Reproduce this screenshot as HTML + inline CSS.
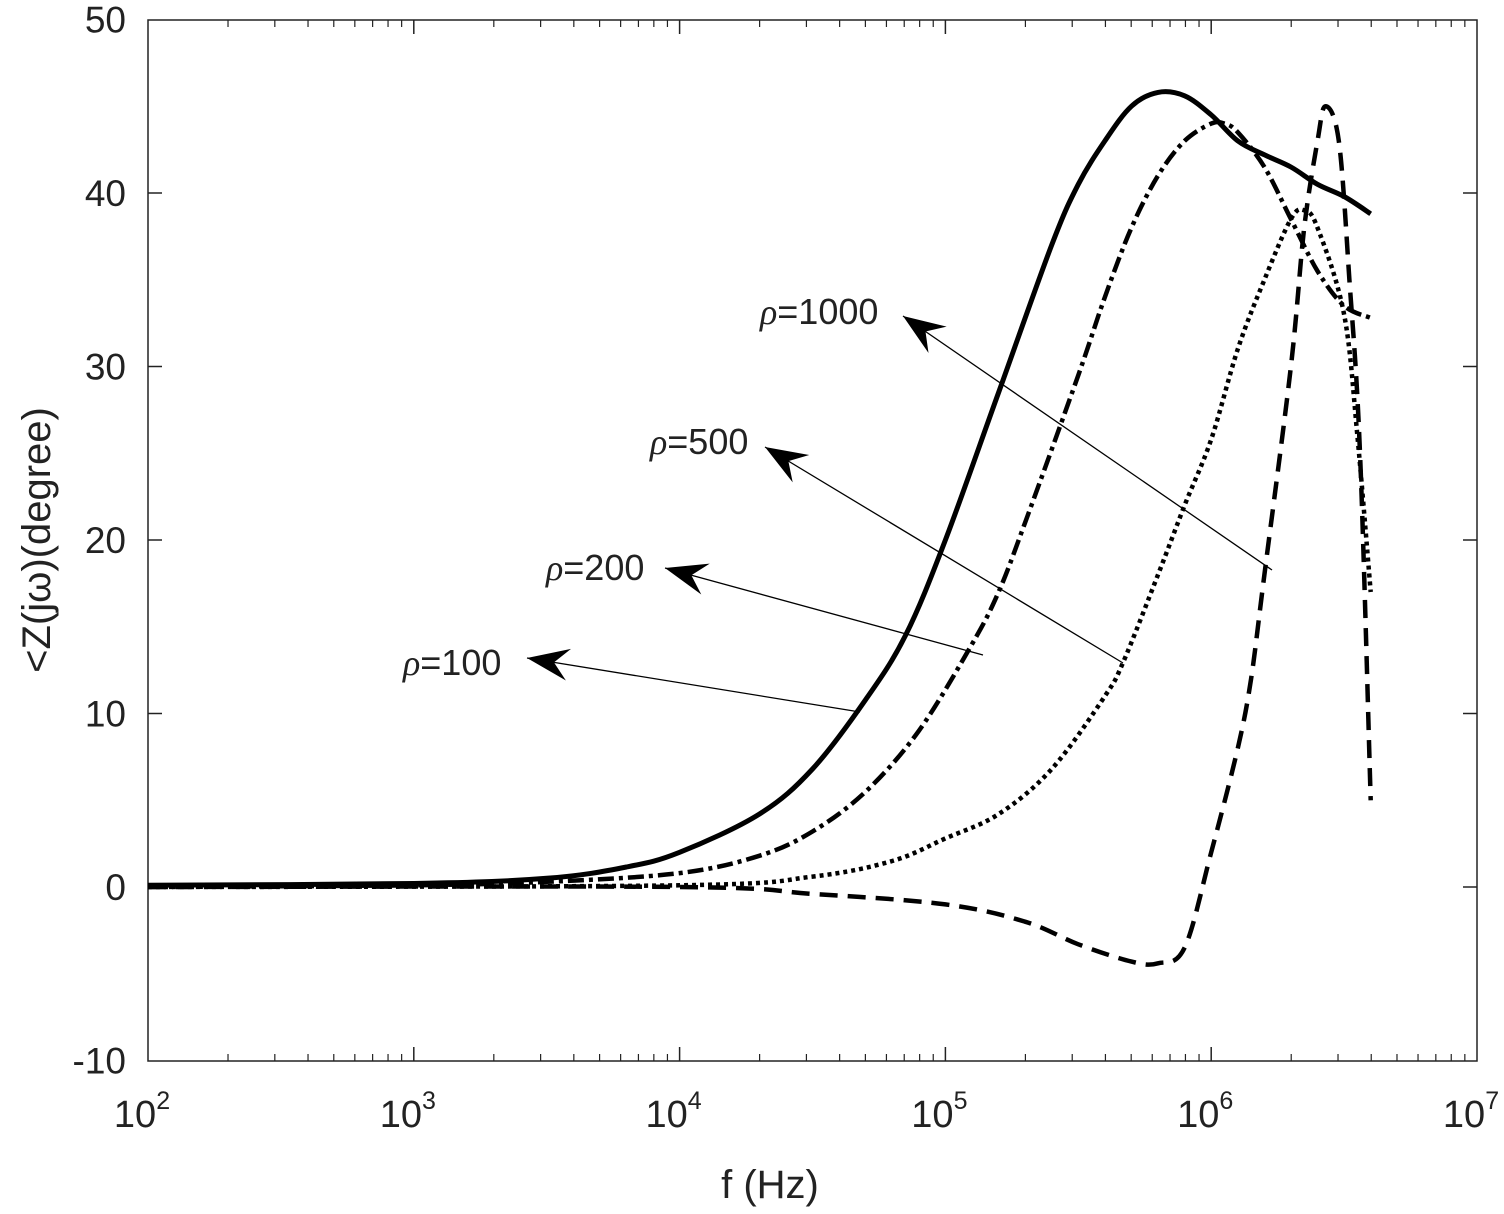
<!DOCTYPE html>
<html><head><meta charset="utf-8"><style>
body{margin:0;background:#fff}
svg text{font-family:"Liberation Sans",sans-serif;fill:#222}
</style></head><body>
<svg id="c" width="1504" height="1209">
<rect x="148" y="20" width="1329" height="1041" fill="none" stroke="#222" stroke-width="1.5"/>
<g id="ticks"></g><g id="series"></g><g id="ann"></g>
<text x="770" y="1198" font-size="40" text-anchor="middle">f (Hz)</text>
<text transform="translate(50,540) rotate(-90)" font-size="40" text-anchor="middle">&lt;Z(jω)(degree)</text>
</svg>
<script>
const xExp=[2,3,4,5,6,7];
const yTicks=[-10,0,10,20,30,40,50];
const logF100=[2,3,3.5,3.8,4,4.3,4.5,4.7,4.85,5,5.2,5.4,5.5,5.6,5.7,5.8,5.9,6,6.1,6.2,6.3,6.4,6.5,6.6];
const rho100=[0.1,0.2,0.5,1.15,2.0,4.2,6.8,10.8,14.5,20,28.5,37,40.5,43,45,45.8,45.6,44.5,43,42.2,41.5,40.5,39.8,38.8];
const logF200=[2,3,3.5,4,4.3,4.5,4.7,4.9,5.1,5.2,5.3,5.5,5.6,5.7,5.8,5.9,6,6.05,6.1,6.2,6.3,6.4,6.5,6.6];
const rho200=[0,0.1,0.3,0.8,1.8,3.2,5.5,9,14,17,21,29.5,34,38,41,43,44,44,43.5,41.5,38.5,35.5,33.5,32.8];
const logF500=[2,4,4.5,4.8,5,5.2,5.4,5.6,5.67,5.8,5.9,6,6.1,6.2,6.3,6.35,6.4,6.5,6.55,6.6];
const rho500=[0,0.1,0.6,1.5,2.8,4.2,6.8,11,13,18,22,25.8,31,35,38.5,39,38,33,26,17];
const logF1000=[2,4,4.5,5,5.3,5.5,5.7,5.8,5.9,6,6.1,6.15,6.2,6.3,6.35,6.4,6.43,6.48,6.52,6.56,6.6];
const rho1000=[0,0,-0.4,-1,-2,-3.3,-4.3,-4.4,-3.5,2,8,12,18,30,38,43,45,43,35,25,5];
const X=l=>148+(l-2)*265.8, Y=v=>887-v*17.35;
const NS="http://www.w3.org/2000/svg";
function mk(t,a,p){const e=document.createElementNS(NS,t);for(const k in a)e.setAttribute(k,a[k]);p.appendChild(e);return e;}
const tk=document.getElementById('ticks');
xExp.forEach(e=>{
 const x=X(e);
 if(e>2&&e<7){mk('line',{x1:x,y1:1061,x2:x,y2:1047,stroke:'#222','stroke-width':1.5},tk);mk('line',{x1:x,y1:20,x2:x,y2:34,stroke:'#222','stroke-width':1.5},tk);}
 if(e<7)for(let m=2;m<10;m++){const xm=X(e+Math.log10(m));mk('line',{x1:xm,y1:1061,x2:xm,y2:1054,stroke:'#222','stroke-width':1.2},tk);mk('line',{x1:xm,y1:20,x2:xm,y2:27,stroke:'#222','stroke-width':1.2},tk);}
 const t=mk('text',{x:x-6,y:1127,'font-size':38,'text-anchor':'middle'},tk);
 
 
 t.textContent='10';
 const s=mk('tspan',{dy:-18,'font-size':25},t);s.textContent=e;
});
yTicks.forEach(v=>{
 const y=Y(v);
 if(v>-10&&v<50){mk('line',{x1:148,y1:y,x2:162,y2:y,stroke:'#222','stroke-width':1.5},tk);mk('line',{x1:1477,y1:y,x2:1463,y2:y,stroke:'#222','stroke-width':1.5},tk);}
 const t=mk('text',{x:126,y:y+13,'font-size':37,'text-anchor':'end'},tk);
 
 
 t.textContent=v;
});
const sg=document.getElementById('series');
function line(xs,ys,dash,w,name){
 const P=xs.map((l,i)=>[X(l),Y(ys[i])]);
 let d='M'+P[0][0].toFixed(1)+','+P[0][1].toFixed(1);
 for(let i=0;i<P.length-1;i++){
  const p0=P[Math.max(i-1,0)],p1=P[i],p2=P[i+1],p3=P[Math.min(i+2,P.length-1)];
  const c1=[p1[0]+(p2[0]-p0[0])/6,p1[1]+(p2[1]-p0[1])/6];
  const c2=[p2[0]-(p3[0]-p1[0])/6,p2[1]-(p3[1]-p1[1])/6];
  d+='C'+c1.map(v=>v.toFixed(1))+' '+c2.map(v=>v.toFixed(1))+' '+p2.map(v=>v.toFixed(1));
 }
 const p=mk('path',{d:d,fill:'none',stroke:'#000','stroke-width':w,'stroke-dasharray':dash,'stroke-linejoin':'round'},sg);
 
 
}
line(logF100,rho100,'none',5,'series-rho-100');
line(logF200,rho200,'16,5,4,5',4.5,'series-rho-200');
line(logF500,rho500,'4,4',4.5,'series-rho-500');
line(logF1000,rho1000,'18,10',4.5,'series-rho-1000');
const ag=document.getElementById('ann');
const anns=[["1000",760,324,1272,570,903,316],["500",650,454,1123,663,765,447],["200",546,580,983,655,665,568],["100",403,675,860,712,527,658]];
anns.forEach(a=>{
 const t=mk('text',{x:a[1],y:a[2],'font-size':36},ag);
 
 
 const r=mk('tspan',{'font-family':'Liberation Serif','font-style':'italic'},t);r.textContent='ρ';
 const n=mk('tspan',{},t);n.textContent='='+a[0];
 mk('line',{x1:a[3],y1:a[4],x2:a[5],y2:a[6],stroke:'#000','stroke-width':1.3},ag);
 const ang=Math.atan2(a[6]-a[4],a[5]-a[3]);
 const L=42,W=16,c=Math.cos(ang),s=Math.sin(ang);
 const bx=a[5]-L*c,by=a[6]-L*s,ix=a[5]-L*0.65*c,iy=a[6]-L*0.65*s;
 mk('path',{d:`M${a[5]},${a[6]}L${bx-W*s},${by+W*c}L${ix},${iy}L${bx+W*s},${by-W*c}Z`,fill:'#000'},ag);
});
</script>
</body></html>
